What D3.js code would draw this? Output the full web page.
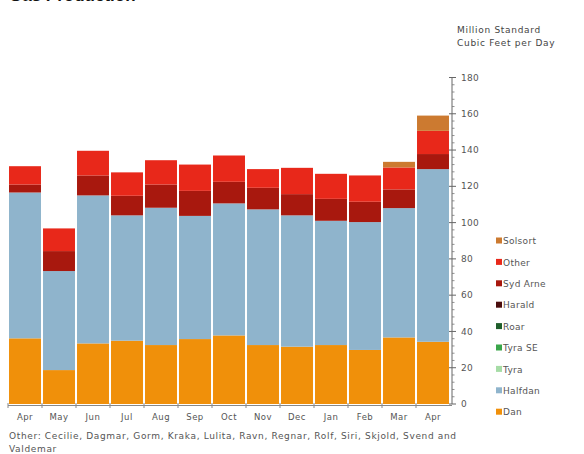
<!DOCTYPE html>
<html>
<head>
<meta charset="utf-8">
<script src="https://cdn.jsdelivr.net/npm/d3@7"></script>
<style>
body { margin: 0; background: #fff; }
svg { font-family: "DejaVu Sans", Verdana, sans-serif; }
</style>
</head>
<body>
<svg width="584" height="454"></svg>
<script>
var width = 584;
var height = 454;

// months along the bottom
var months = ["Apr", "May", "Jun", "Jul", "Aug", "Sep", "Oct", "Nov", "Dec", "Jan", "Feb", "Mar", "Apr"];

// fields, bottom of stack first
var fields = ["Dan", "Halfdan", "Tyra", "Tyra SE", "Roar", "Harald", "Syd Arne", "Other", "Solsort"];
var fieldColors = ["#f0900a", "#8fb4cc", "#a6dca6", "#3aa64a", "#1f5e2b", "#4a0d0d", "#a8180e", "#e8281a", "#cc7a30"];

// values, million standard cubic feet per day
var dan      = [36.2, 18.7, 33.4, 34.9, 32.5, 35.8, 37.8, 32.5, 31.6, 32.5, 29.8, 36.7, 34.3];
var halfdan  = [80.4, 54.6, 81.6, 69.1, 75.7, 67.9, 72.8, 74.8, 72.4, 68.5, 70.5, 71.3, 95.2];
var tyra     = [0, 0, 0, 0, 0, 0, 0, 0, 0, 0, 0, 0, 0];
var tyraSE   = [0, 0, 0, 0, 0, 0, 0, 0, 0, 0, 0, 0, 0];
var roar     = [0, 0, 0, 0, 0, 0, 0, 0, 0, 0, 0, 0, 0];
var harald   = [0, 0, 0, 0, 0, 0, 0, 0, 0, 0, 0, 0, 0];
var sydArne  = [4.4, 11.0, 11.0, 10.8, 12.8, 13.8, 11.9, 11.9, 11.7, 12.1, 11.2, 10.3, 8.3];
var other    = [10.1, 12.5, 13.6, 12.9, 13.4, 14.5, 14.5, 10.3, 14.5, 13.8, 14.5, 12.1, 12.8];
var solsort  = [0, 0, 0, 0, 0, 0, 0, 0, 0, 0, 0, 3.1, 8.4];

var yTicks = [0, 20, 40, 60, 80, 100, 120, 140, 160, 180];

var series = [dan, halfdan, tyra, tyraSE, roar, harald, sydArne, other, solsort];

// build rows for d3.stack
var rows = months.map(function(m, i) {
    var r = { idx: i, month: m };
    fields.forEach(function(f, j) { r[f] = series[j][i]; });
    return r;
});

var stacked = d3.stack().keys(fields)(rows);

var svg = d3.select("svg");

var x = d3.scaleBand()
    .domain(d3.range(months.length))
    .range([8, 450])
    .paddingInner(0.06)
    .paddingOuter(0.03);

var y = d3.scaleLinear()
    .domain([0, 180])
    .range([404, 77.5]);

var color = d3.scaleOrdinal().domain(fields).range(fieldColors);

// title (clipped at top like the original)
svg.append("text")
    .attr("x", 9)
    .attr("y", 1)
    .attr("font-weight", "bold")
    .style("font-family", "'Liberation Sans', Arial, sans-serif")
    .style("font-size", "17px")
    .style("fill", "#111")
    .text("Gas Production");

// bars
svg.append("g").selectAll("g")
    .data(stacked)
    .enter().append("g")
    .attr("fill", function(d) { return color(d.key); })
    .selectAll("rect")
    .data(function(d) { return d; })
    .enter().append("rect")
    .attr("x", function(d) { return x(d.data.idx); })
    .attr("width", x.bandwidth())
    .attr("y", function(d) { return y(d[1]); })
    .attr("height", function(d) { return y(d[0]) - y(d[1]); });

// y axis on the right
var yAxisG = svg.append("g")
    .attr("transform", "translate(452,0)");

yAxisG.append("line")
    .attr("y1", y(0)).attr("y2", y(180))
    .attr("stroke", "#666").attr("stroke-width", 1);

yAxisG.selectAll("line.minor")
    .data(d3.range(0, 181, 4).filter(function(v) { return v % 20 != 0; }))
    .enter().append("line")
    .attr("class", "minor")
    .attr("x1", 0).attr("x2", 2.5)
    .attr("y1", function(d) { return y(d); })
    .attr("y2", function(d) { return y(d); })
    .attr("stroke", "#777").attr("stroke-width", 0.8);

yAxisG.selectAll("line.major")
    .data(yTicks)
    .enter().append("line")
    .attr("class", "major")
    .attr("x1", -3).attr("x2", 4)
    .attr("y1", function(d) { return y(d); })
    .attr("y2", function(d) { return y(d); })
    .attr("stroke", "#666").attr("stroke-width", 1);

yAxisG.selectAll("text")
    .data(yTicks)
    .enter().append("text")
    .attr("x", 9)
    .attr("y", function(d) { return y(d); })
    .attr("dy", "0.35em")
    .style("font-size", "9px")
    .style("letter-spacing", "0.3px")
    .style("fill", "#555")
    .text(function(d) { return d; });

// y axis title
svg.append("text")
    .attr("x", 457).attr("y", 33)
    .style("font-size", "9px").style("letter-spacing", "0.7px").style("fill", "#444")
    .text("Million Standard");
svg.append("text")
    .attr("x", 457).attr("y", 46)
    .style("font-size", "9px").style("letter-spacing", "0.7px").style("fill", "#444")
    .text("Cubic Feet per Day");

// x axis
var xAxisG = svg.append("g");
xAxisG.append("line")
    .attr("x1", 8).attr("x2", 452)
    .attr("y1", 405.5).attr("y2", 405.5)
    .attr("stroke", "#888");
xAxisG.selectAll("line.tick")
    .data(d3.range(months.length))
    .enter().append("line")
    .attr("class", "tick")
    .attr("x1", function(d) { return x(d) - x.step() * x.paddingInner() / 2; })
    .attr("x2", function(d) { return x(d) - x.step() * x.paddingInner() / 2; })
    .attr("y1", 403).attr("y2", 408)
    .attr("stroke", "#888");
xAxisG.selectAll("text")
    .data(months)
    .enter().append("text")
    .attr("x", function(d, i) { return x(i) + x.bandwidth() / 2; })
    .attr("y", 420)
    .attr("text-anchor", "middle")
    .style("font-size", "8.5px")
    .style("letter-spacing", "0.5px")
    .style("fill", "#555")
    .text(function(d) { return d; });

// legend, top entry is last stacked field
var legend = svg.append("g").selectAll("g")
    .data(fields.slice().reverse())
    .enter().append("g")
    .attr("transform", function(d, i) { return "translate(496," + (241 + i * 21.4) + ")"; });

legend.append("rect")
    .attr("x", 0).attr("y", -3.5)
    .attr("width", 6).attr("height", 6)
    .attr("fill", function(d) { return color(d); });

legend.append("text")
    .attr("x", 7)
    .attr("y", 0)
    .attr("dy", "0.35em")
    .style("font-size", "9px")
    .style("letter-spacing", "0.3px")
    .style("fill", "#555")
    .text(function(d) { return d; });

// footnote
svg.append("text")
    .attr("x", 9).attr("y", 439)
    .style("font-size", "9px").style("letter-spacing", "0.65px").style("fill", "#555")
    .text("Other:  Cecilie, Dagmar, Gorm,  Kraka, Lulita, Ravn,  Regnar, Rolf, Siri, Skjold, Svend and");
svg.append("text")
    .attr("x", 9).attr("y", 452)
    .style("font-size", "9px").style("letter-spacing", "0.65px").style("fill", "#555")
    .text("Valdemar");
</script>
</body>
</html>
